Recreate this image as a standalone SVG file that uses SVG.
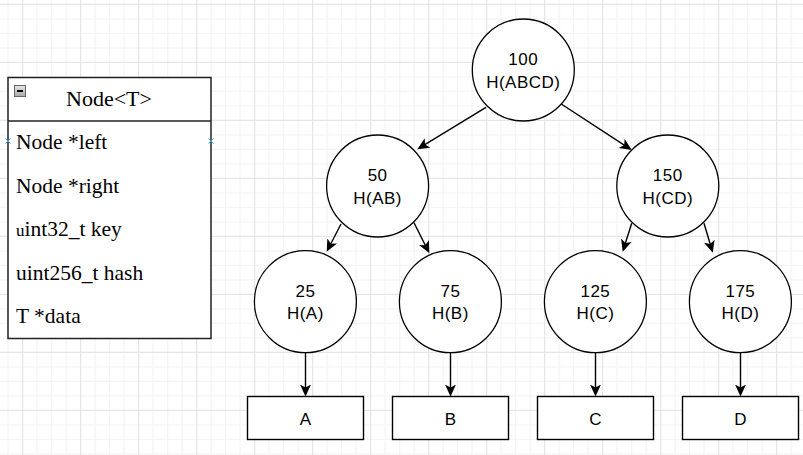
<svg xmlns="http://www.w3.org/2000/svg" width="803" height="455" viewBox="0 0 803 455">
<style>
.circ{fill:#fff;stroke:#000;stroke-width:1.3}
.box{fill:#fff;stroke:#000;stroke-width:1.4}
.lbl{font-family:"Liberation Sans",Arial,sans-serif;font-size:17px;fill:#000;text-anchor:middle}
.sp{letter-spacing:0.5px}
.uml{font-family:"Liberation Serif","Times New Roman",serif;fill:#000}
.edge{fill:none;stroke:#000;stroke-width:1.4}
.mark{fill:none;stroke:#3ea0dc;stroke-width:1}
</style>
<defs>
<pattern id="grid" patternUnits="userSpaceOnUse" x="22.2" y="3.8" width="58" height="58">
<rect width="58" height="58" fill="#fff"/>
<path d="M15,0V58M29.5,0V58M44,0V58M0,15H58M0,29.5H58M0,44H58" stroke="#f2f2f2" stroke-width="1"/>
<path d="M0.5,0V58M0,0.5H58" stroke="#e0e0e0" stroke-width="1"/>
</pattern>
<marker id="arr" markerUnits="userSpaceOnUse" markerWidth="14" markerHeight="14" refX="9" refY="6" orient="auto">
<path d="M0,0.5L12,6L0,11.5L3,6Z" fill="#000"/>
</marker>
<linearGradient id="ig" x1="0" y1="0" x2="0" y2="1">
<stop offset="0" stop-color="#e8e8e8"/>
<stop offset="1" stop-color="#a8a8a8"/>
</linearGradient>
</defs>
<rect width="803" height="455" fill="url(#grid)"/>

<g id="class-node">
<rect x="8" y="77.5" width="203" height="261" fill="#fff" stroke="#222" stroke-width="1.5"/>
<line x1="8" y1="121" x2="211" y2="121" stroke="#222" stroke-width="1.5"/>
<rect x="14.5" y="85.5" width="11" height="11" fill="url(#ig)" stroke="#666" stroke-width="1"/>
<line x1="17" y1="91" x2="23" y2="91" stroke="#000" stroke-width="2"/>
<text class="uml" x="109" y="106" font-size="22" text-anchor="middle">Node&lt;T&gt;</text>
<text class="uml" x="16" y="149.3" font-size="21.5">Node *left</text>
<text class="uml" x="16" y="192.8" font-size="21.5">Node *right</text>
<text class="uml" x="16" y="236.3" font-size="21.5"><tspan font-size="17">u</tspan>int32_t key</text>
<text class="uml" x="16" y="279.8" font-size="21.5">uint256_t hash</text>
<text class="uml" x="16" y="323.3" font-size="21.5">T *data</text>
<path class="mark" d="M5.5,138.5L10.5,143.5M10.5,138.5L5.5,143.5M208.5,138.5L213.5,143.5M213.5,138.5L208.5,143.5"/>
</g>

<g id="connectors">
<line class="edge" x1="486" y1="107.3" x2="419.9" y2="147.7" marker-end="url(#arr)"/>
<line class="edge" x1="549" y1="96" x2="629.2" y2="148.4" marker-end="url(#arr)"/>
<line class="edge" x1="341" y1="224" x2="328.1" y2="249" marker-end="url(#arr)"/>
<line class="edge" x1="414" y1="222.7" x2="428" y2="250.6" marker-end="url(#arr)"/>
<line class="edge" x1="631.7" y1="223.3" x2="623.6" y2="248.8" marker-end="url(#arr)"/>
<line class="edge" x1="704" y1="223.3" x2="711.9" y2="249.8" marker-end="url(#arr)"/>
<line class="edge" x1="305.5" y1="352.7" x2="305.5" y2="393.5" marker-end="url(#arr)"/>
<line class="edge" x1="450.5" y1="352.7" x2="450.5" y2="393.5" marker-end="url(#arr)"/>
<line class="edge" x1="595.5" y1="352.7" x2="595.5" y2="393.5" marker-end="url(#arr)"/>
<line class="edge" x1="740.5" y1="352.7" x2="740.5" y2="393.5" marker-end="url(#arr)"/>
</g>

<g id="n100"><circle class="circ" cx="523.3" cy="70" r="51"/><text class="lbl sp" x="523.3" y="65">100</text><text class="lbl sp" x="523.3" y="87.5">H(ABCD)</text></g>
<g id="n50"><circle class="circ" cx="377.6" cy="186" r="51"/><text class="lbl sp" x="377.6" y="181">50</text><text class="lbl sp" x="377.6" y="203.5">H(AB)</text></g>
<g id="n150"><circle class="circ" cx="667.8" cy="186" r="51"/><text class="lbl sp" x="667.8" y="181">150</text><text class="lbl sp" x="667.8" y="203.5">H(CD)</text></g>
<g id="n25"><circle class="circ" cx="305.4" cy="301.7" r="51"/><text class="lbl sp" x="305.4" y="296.7">25</text><text class="lbl sp" x="305.4" y="319.2">H(A)</text></g>
<g id="n75"><circle class="circ" cx="450.4" cy="301.7" r="51"/><text class="lbl sp" x="450.4" y="296.7">75</text><text class="lbl sp" x="450.4" y="319.2">H(B)</text></g>
<g id="n125"><circle class="circ" cx="595.4" cy="301.7" r="51"/><text class="lbl sp" x="595.4" y="296.7">125</text><text class="lbl sp" x="595.4" y="319.2">H(C)</text></g>
<g id="n175"><circle class="circ" cx="740.4" cy="301.7" r="51"/><text class="lbl sp" x="740.4" y="296.7">175</text><text class="lbl sp" x="740.4" y="319.2">H(D)</text></g>

<g id="leafA"><rect class="box" x="247.5" y="396.5" width="116" height="43"/><text class="lbl" x="305.5" y="424.5">A</text></g>
<g id="leafB"><rect class="box" x="392.5" y="396.5" width="116" height="43"/><text class="lbl" x="450.5" y="424.5">B</text></g>
<g id="leafC"><rect class="box" x="537.5" y="396.5" width="116" height="43"/><text class="lbl" x="595.5" y="424.5">C</text></g>
<g id="leafD"><rect class="box" x="682.5" y="396.5" width="116" height="43"/><text class="lbl" x="740.5" y="424.5">D</text></g>
</svg>
